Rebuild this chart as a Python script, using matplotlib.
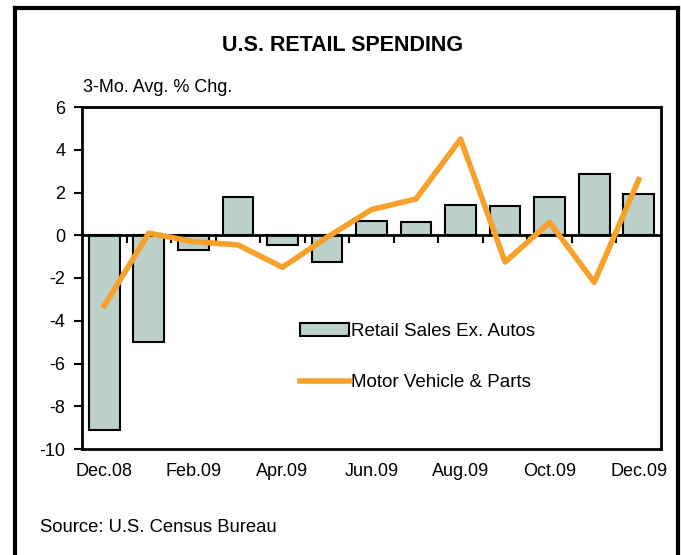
import numpy as np
import matplotlib.pyplot as plt
from matplotlib.lines import Line2D

plt.rcParams['font.family'] = ['Liberation Sans', 'DejaVu Sans']
plt.rcParams['axes.unicode_minus'] = False

# data
months = ["Dec.08", "Jan.09", "Feb.09", "Mar.09", "Apr.09", "May.09", "Jun.09",
          "Jul.09", "Aug.09", "Sep.09", "Oct.09", "Nov.09", "Dec.09"]
retail_ex_autos = [-9.1, -5.0, -0.7, 1.8, -0.45, -1.25, 0.65, 0.6, 1.4, 1.35, 1.8, 2.85, 1.95]
motor_vehicles = [-3.3, 0.1, -0.3, -0.45, -1.5, -0.1, 1.2, 1.7, 4.5, -1.25, 0.6, -2.2, 2.6]

x = np.arange(len(months))

fig = plt.figure(figsize=(6.81, 5.55), dpi=100)
ax = fig.add_axes([82/681, 1 - 449/555, (661 - 82)/681, (449 - 107)/555])

bars = ax.bar(x, retail_ex_autos, width=0.69, color='#bbd0c8', edgecolor='black',
              linewidth=1.5, label='Retail Sales Ex. Autos', zorder=2)
ax.axhline(0, color='black', linewidth=2, zorder=2.5)
line, = ax.plot(x, motor_vehicles, color='#f7a12a', linewidth=4,
                label='Motor Vehicle & Parts', zorder=3)

ax.set_xlim(-0.5, len(months) - 0.5)
ax.set_ylim(-10, 6)
ax.set_yticks(np.arange(-10, 7, 2))
ax.set_xticks(x[::2])
ax.set_xticklabels(months[::2])
ax.tick_params(axis='x', length=0, pad=10, labelsize=13)
ax.tick_params(axis='y', length=6, width=1.5, direction='out', labelsize=13, pad=6)
for s in ax.spines.values():
    s.set_linewidth(2)

# small ticks between categories on the zero line
zero = ax.secondary_xaxis(10 / 16)
zero.set_xticks(x[:-1] + 0.5)
zero.set_xticklabels([])
zero.tick_params(direction='out', length=6, width=1.5)
zero.xaxis.set_ticks_position('bottom')
for s in zero.spines.values():
    s.set_visible(False)

ax.legend(handles=[bars, line], loc='upper left', bbox_to_anchor=(0.36, 0.395),
          frameon=False, fontsize=13.5, handlelength=2.6, handletextpad=0.12,
          labelspacing=1.8, borderpad=0)

fig.text(343/681, 1 - 45/555, "U.S. RETAIL SPENDING", ha='center', va='center',
         fontsize=15.5, fontweight='bold')
fig.text(83/681, 1 - 87/555, "3-Mo. Avg. % Chg.", ha='left', va='center', fontsize=13)
fig.text(40/681, 1 - 527/555, "Source: U.S. Census Bureau", ha='left', va='center',
         fontsize=13.3)

# outer frame
fw = 3
fig.add_artist(Line2D([15/681, 15/681], [0, 1 - 8/555], color='black', lw=fw))
fig.add_artist(Line2D([678/681, 678/681], [0, 1 - 8/555], color='black', lw=fw))
fig.add_artist(Line2D([15/681, 678/681], [1 - 8/555, 1 - 8/555], color='black', lw=fw))

fig.savefig('out.png', dpi=100)
